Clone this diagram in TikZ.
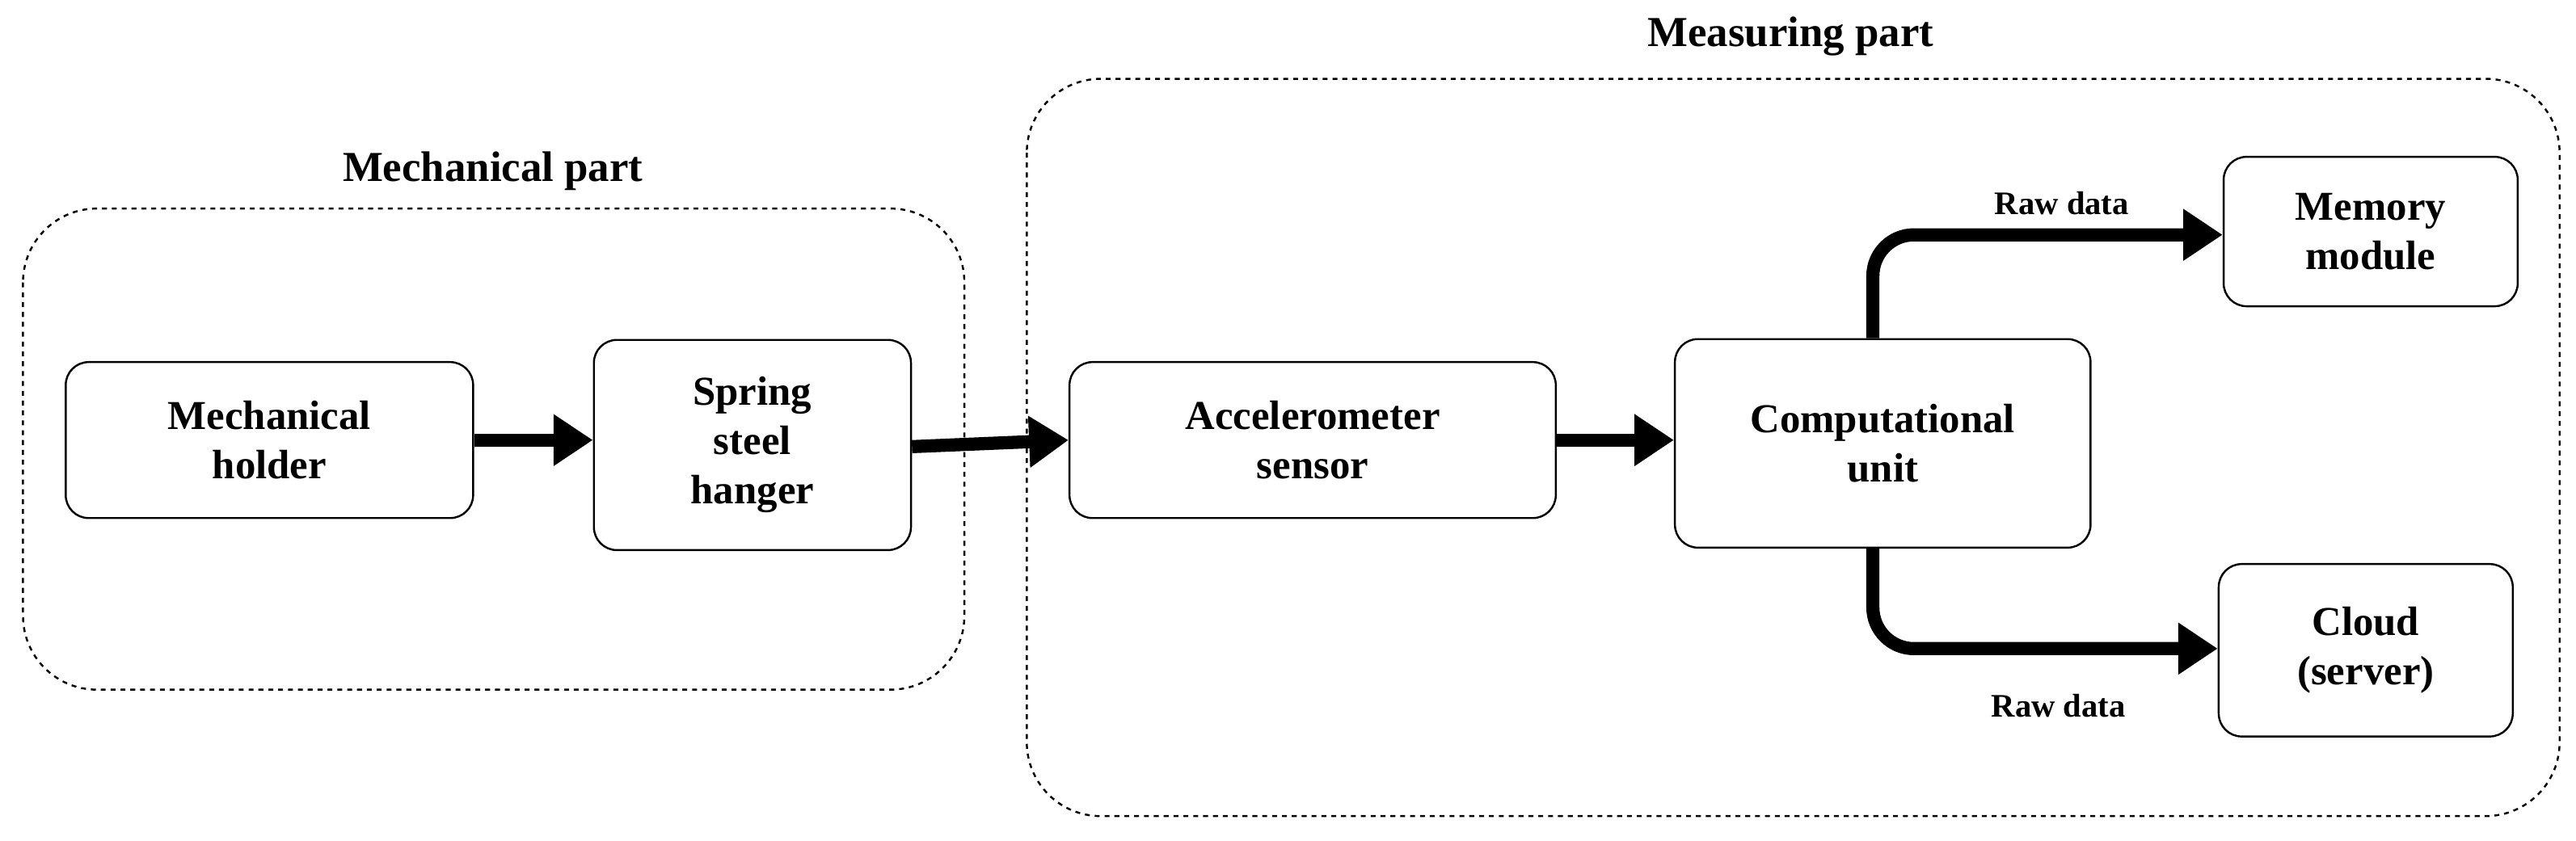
\documentclass[tikz,border=0pt]{standalone}
\usepackage{fontspec}
\setmainfont{Liberation Serif}
\usetikzlibrary{arrows.meta}
\begin{document}
\begin{tikzpicture}[x=1pt,y=-1pt,
  box/.style={draw,line width=1.2pt,rounded corners=14pt,align=center,font=\fontsize{25}{30}\selectfont\bfseries},
  grp/.style={draw,dashed,line width=1.2pt,rounded corners=45pt},
  arr/.style={line width=8pt,-{Triangle[length=24pt,width=30pt]}},
  lab/.style={font=\fontsize{20}{24}\selectfont\bfseries},
  ttl/.style={font=\fontsize{26}{30}\selectfont\bfseries}]
\useasboundingbox (0,0) rectangle (1568,512);
\draw[grp] (14,127) rectangle (587,420);
\draw[grp] (625,48) rectangle (1558,497);
\node[ttl] (t1) at (300,104) {Mechanical part};
\node[ttl] (t2) at (1090,22) {Measuring part};
\node[box,minimum width=248pt,minimum height=95pt] (mh) at (164,268) {Mechanical\\holder};
\node[box,minimum width=193pt,minimum height=128pt] (sp) at (458,271) {Spring\\steel\\hanger};
\node[box,minimum width=296pt,minimum height=95pt] (ac) at (799,268) {Accelerometer\\sensor};
\node[box,minimum width=253pt,minimum height=127pt] (cu) at (1146,270) {Computational\\unit};
\node[box,minimum width=179pt,minimum height=91pt] (mm) at (1443,141) {Memory\\module};
\node[box,minimum width=179pt,minimum height=105pt] (cl) at (1440,396) {Cloud\\(server)};
\draw[arr] (mh.east) -- (sp.west|-mh.east);
\draw[arr] (sp.east|-0,272) -- (ac.west);
\draw[arr] (ac.east) -- (cu.west|-ac.east);
\draw[arr,rounded corners=25pt] (1140,206) -- (1140,143) -- (mm.west|-0,143);
\draw[arr,rounded corners=25pt] (1140,334) -- (1140,395) -- (cl.west|-0,395);
\node[lab] (l1) at (1255,124) {Raw data};
\node[lab] (l2) at (1253,430) {Raw data};
\end{tikzpicture}
\end{document}
